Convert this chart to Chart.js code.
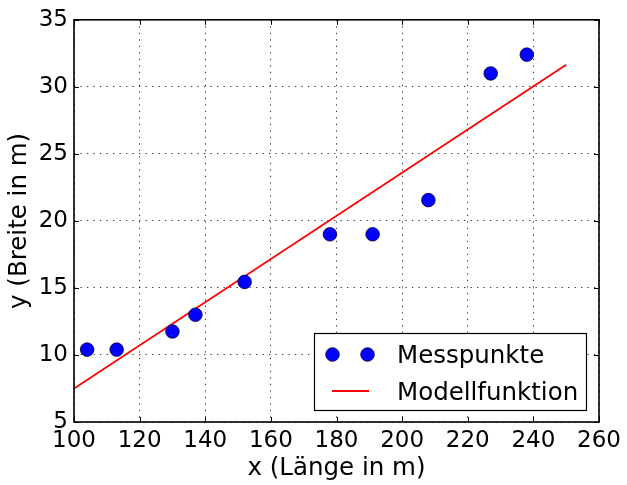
<!DOCTYPE html>
<html>
<head>
<meta charset="utf-8">
<script src="https://cdn.jsdelivr.net/npm/chart.js@4/dist/chart.umd.min.js"></script>
<style>
  html, body { margin: 0; padding: 0; background: #fff; }
  #wrap { width: 627px; height: 485px; }
</style>
</head>
<body>
<div id="wrap"><canvas id="chart"></canvas></div>
<script>
// Messpunkte (Länge, Breite)
var laenge = [104, 113, 130, 137, 152, 178, 191, 208, 227, 238];
var breite = [10.4, 10.4, 11.75, 13.0, 15.45, 19.0, 19.0, 21.55, 31.0, 32.4];

// Modellfunktion (Endpunkte der Geraden)
var modellX = [100, 250];
var modellY = [7.5, 31.65];

// Achsen
var xTicks = [100, 120, 140, 160, 180, 200, 220, 240, 260];
var yTicks = [5, 10, 15, 20, 25, 30, 35];

var fontName = "'DejaVu Sans', sans-serif";

// frame, inward ticks and matplotlib style legend
var framePlugin = {
    id: 'frame',
    afterDraw: function(chart) {
        var ctx = chart.ctx;
        var a = chart.chartArea;
        var xs = chart.scales.x;
        var ys = chart.scales.y;
        ctx.save();

        // ticks on all four sides
        ctx.strokeStyle = '#000';
        ctx.lineWidth = 1;
        xTicks.forEach(function(v) {
            var px = Math.round(xs.getPixelForValue(v)) + 0.5;
            ctx.beginPath();
            ctx.moveTo(px, a.bottom); ctx.lineTo(px, a.bottom - 5);
            ctx.moveTo(px, a.top); ctx.lineTo(px, a.top + 5);
            ctx.stroke();
        });
        yTicks.forEach(function(v) {
            var py = Math.round(ys.getPixelForValue(v)) + 0.5;
            ctx.beginPath();
            ctx.moveTo(a.left, py); ctx.lineTo(a.left + 5, py);
            ctx.moveTo(a.right, py); ctx.lineTo(a.right - 5, py);
            ctx.stroke();
        });

        // frame
        ctx.lineWidth = 1.6;
        ctx.strokeRect(a.left, a.top, a.right - a.left, a.bottom - a.top);

        // legend
        var lx = 314.5, ly = 333.5, lw = 272, lh = 77;
        ctx.fillStyle = '#fff';
        ctx.fillRect(lx, ly, lw, lh);
        ctx.lineWidth = 1.2;
        ctx.strokeStyle = '#000';
        ctx.strokeRect(lx, ly, lw, lh);

        [332.5, 367.5].forEach(function(cx) {
            ctx.beginPath();
            ctx.arc(cx, 354.5, 6.8, 0, Math.PI * 2);
            ctx.fillStyle = '#0000ff';
            ctx.fill();
            ctx.strokeStyle = '#000033';
            ctx.lineWidth = 0.8;
            ctx.stroke();
        });
        ctx.beginPath();
        ctx.moveTo(332, 391);
        ctx.lineTo(369, 391);
        ctx.strokeStyle = '#ff0000';
        ctx.lineWidth = 1.8;
        ctx.stroke();

        ctx.fillStyle = '#000';
        ctx.font = '24.5px ' + fontName;
        ctx.textBaseline = 'alphabetic';
        ctx.textAlign = 'left';
        ctx.fillText(chart.data.datasets[0].label, 397, 363);
        ctx.fillText(chart.data.datasets[1].label, 397, 399.5);
        ctx.restore();
    }
};

document.addEventListener('DOMContentLoaded', function() {
    var ctx = document.getElementById('chart').getContext('2d');
    var punkte = laenge.map(function(x, i) { return { x: x, y: breite[i] }; });
    var modell = modellX.map(function(x, i) { return { x: x, y: modellY[i] }; });

    new Chart(ctx, {
        type: 'scatter',
        data: {
            datasets: [{
                label: 'Messpunkte',
                data: punkte,
                backgroundColor: '#0000ff',
                borderColor: '#000033',
                borderWidth: 0.8,
                pointRadius: 6.8,
                pointHoverRadius: 6.8,
                order: 1
            }, {
                label: 'Modellfunktion',
                type: 'line',
                data: modell,
                borderColor: '#ff0000',
                borderWidth: 1.8,
                pointRadius: 0,
                fill: false,
                order: 2
            }]
        },
        options: {
            responsive: true,
            maintainAspectRatio: false,
            animation: false,
            events: [],
            layout: { padding: { top: 16, right: 28, left: 0, bottom: 0 } },
            plugins: {
                legend: { display: false },
                tooltip: { enabled: false }
            },
            scales: {
                x: {
                    type: 'linear',
                    min: 100,
                    max: 260,
                    afterFit: function(s) { s.height = 63; },
                    afterBuildTicks: function(s) {
                        s.ticks = xTicks.map(function(v) { return { value: v }; });
                    },
                    ticks: {
                        color: '#000',
                        padding: 5,
                        maxRotation: 0,
                        font: { family: fontName, size: 23 }
                    },
                    grid: {
                        color: 'rgba(0,0,0,0.8)',
                        lineWidth: 1,
                        drawTicks: false
                    },
                    border: { display: false, dash: [1.3, 5.2] },
                    title: {
                        display: true,
                        text: 'x (Länge in m)',
                        color: '#000',
                        padding: { top: 0, bottom: 2 },
                        font: { family: fontName, size: 24.5 }
                    }
                },
                y: {
                    type: 'linear',
                    min: 5,
                    max: 35,
                    afterFit: function(s) { s.width = 74; },
                    afterBuildTicks: function(s) {
                        s.ticks = yTicks.map(function(v) { return { value: v }; });
                    },
                    ticks: {
                        color: '#000',
                        padding: 6,
                        font: { family: fontName, size: 23 }
                    },
                    grid: {
                        color: 'rgba(0,0,0,0.8)',
                        lineWidth: 1,
                        drawTicks: false
                    },
                    border: { display: false, dash: [1.3, 5.2] },
                    title: {
                        display: true,
                        text: 'y (Breite in m)',
                        color: '#000',
                        padding: { top: 5, bottom: 0 },
                        font: { family: fontName, size: 24.5 }
                    }
                }
            }
        },
        plugins: [framePlugin]
    });
});
</script>
</body>
</html>
